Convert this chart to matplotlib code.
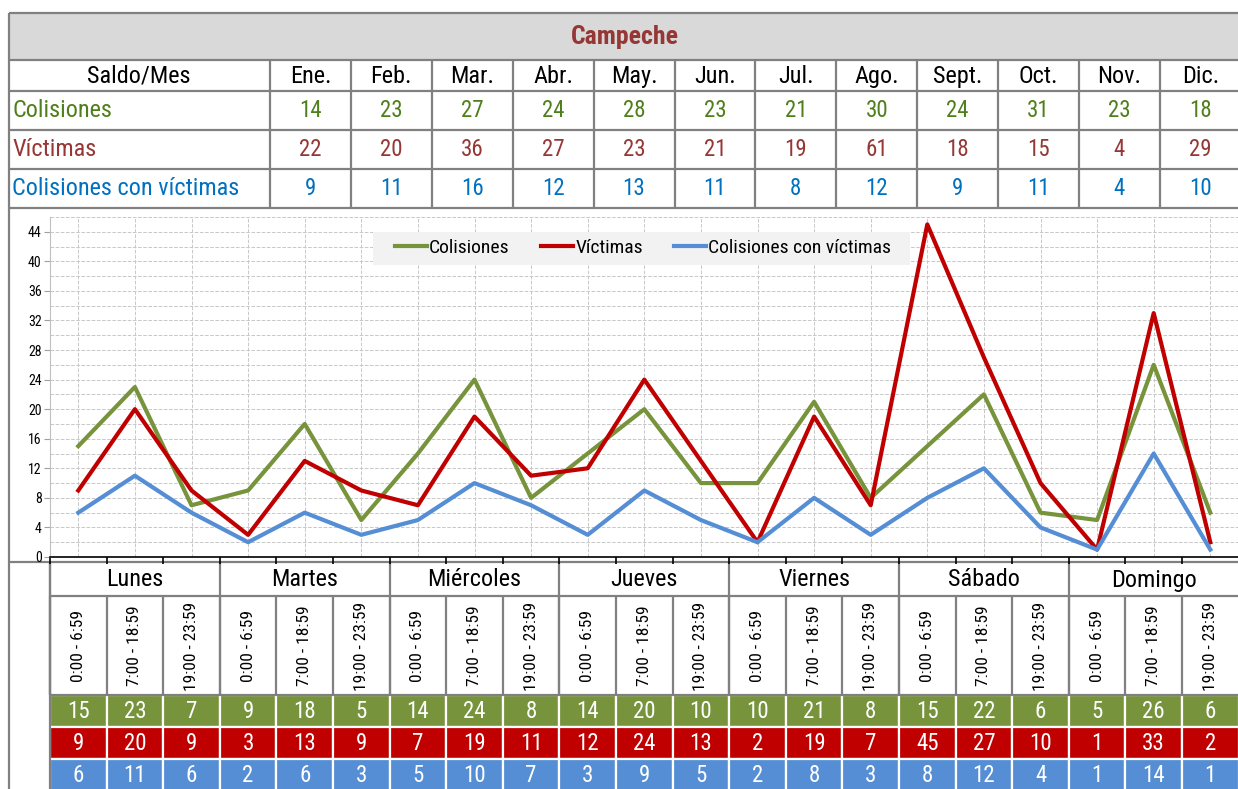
"""
    Campeche: colisiones y víctimas por día y horario
"""
import numpy as np
import matplotlib.pyplot as plt
from matplotlib.patches import Rectangle

plt.rcParams['font.family'] = ['Roboto Condensed', 'DejaVu Sans']

# monthly summary
months = ['Ene.', 'Feb.', 'Mar.', 'Abr.', 'May.', 'Jun.', 'Jul.', 'Ago.', 'Sept.', 'Oct.', 'Nov.', 'Dic.']
col_mes = [14, 23, 27, 24, 28, 23, 21, 30, 24, 31, 23, 18]
vic_mes = [22, 20, 36, 27, 23, 21, 19, 61, 18, 15, 4, 29]
cv_mes = [9, 11, 16, 12, 13, 11, 8, 12, 9, 11, 4, 10]

# by day / time slot
days = ['Lunes', 'Martes', 'Miércoles', 'Jueves', 'Viernes', 'Sábado', 'Domingo']
slots = ['0:00 - 6:59', '7:00 - 18:59', '19:00 - 23:59']
colisiones = [15, 23, 7, 9, 18, 5, 14, 24, 8, 14, 20, 10, 10, 21, 8, 15, 22, 6, 5, 26, 6]
victimas = [9, 20, 9, 3, 13, 9, 7, 19, 11, 12, 24, 13, 2, 19, 7, 45, 27, 10, 1, 33, 2]
con_victimas = [6, 11, 6, 2, 6, 3, 5, 10, 7, 3, 9, 5, 2, 8, 3, 8, 12, 4, 1, 14, 1]

GREEN, RED, BLUE = '#77933C', '#C00000', '#558ED5'
TXT_G, TXT_R, TXT_B = '#4F7F1A', '#953735', '#0070C0'
GRAY = '#808080'

W, H = 1238, 789
fig = plt.figure(figsize=(W / 100, H / 100), dpi=100)

# background axes in pixel coords (for the tables)
bg = fig.add_axes([0, 0, 1, 1])
bg.set_xlim(0, W)
bg.set_ylim(H, 0)
bg.axis('off')


def hline(y, x0, x1, c=GRAY, lw=1.6):
    bg.plot([x0, x1], [y, y], color=c, lw=lw, solid_capstyle='butt')


def vline(x, y0, y1, c=GRAY, lw=1.6):
    bg.plot([x, x], [y0, y1], color=c, lw=lw, solid_capstyle='butt')


# ---- top table ----
L, R = 9, 1241
bg.add_patch(Rectangle((L, 13), R - L, 47, facecolor='#D9D9D9', edgecolor='none'))
bg.text((L + R) / 2, 37, 'Campeche', ha='center', va='center', fontsize=18.5,
        fontweight='bold', color=TXT_R)

col_x = 270 + 80.9 * np.arange(13)
rows_y = [60, 91, 130, 169, 208]
for y in [13] + rows_y:
    hline(y, L, R)
vline(L, 13, H)
for x in col_x:
    vline(x, 60, 208)

bg.text(139, 76, 'Saldo/Mes', ha='center', va='center', fontsize=17.5)
labels = ['Colisiones', 'Víctimas', 'Colisiones con víctimas']
series = [col_mes, vic_mes, cv_mes]
tcols = [TXT_G, TXT_R, TXT_B]
for i, m in enumerate(months):
    cx = (col_x[i] + col_x[i + 1]) / 2
    bg.text(cx, 76, m, ha='center', va='center', fontsize=17.5)
    for r in range(3):
        cy = (rows_y[r + 1] + rows_y[r + 2]) / 2
        bg.text(cx, cy, str(series[r][i]), ha='center', va='center', fontsize=16.5, color=tcols[r])
for r in range(3):
    cy = (rows_y[r + 1] + rows_y[r + 2]) / 2
    bg.text(12, cy, labels[r], ha='left', va='center', fontsize=17.5, color=tcols[r])

# ---- line chart ----
x0, x1 = 50, 50 + 21 * 56.6
ytop, ybot = 217, 557
ax = fig.add_axes([x0 / W, 1 - ybot / H, (x1 - x0) / W, (ybot - ytop) / H])
ax.set_facecolor('none')
pos = np.arange(len(colisiones))
ax.plot(pos, colisiones, color=GREEN, lw=3, label='Colisiones')
ax.plot(pos, victimas, color=RED, lw=3, label='Víctimas')
ax.plot(pos, con_victimas, color=BLUE, lw=3, label='Colisiones con víctimas')
ax.set_xlim(-0.5, 20.5)
ax.set_ylim(0, 46)
ax.set_yticks(np.arange(0, 45, 4))
ax.set_yticks(np.arange(0, 47, 2), minor=True)
ax.set_xticks(np.arange(-0.5, 21, 1))
ax.set_xticks(pos, minor=True)
ax.set_xticklabels([])
ax.tick_params(axis='y', which='major', labelsize=10, length=4, color='#a0a0a0', pad=2)
ax.tick_params(axis='y', which='minor', length=0)
ax.tick_params(axis='x', which='major', length=5, color='black', width=1.2)
ax.tick_params(axis='x', which='minor', length=0)
ax.grid(True, which='minor', axis='both', ls='--', lw=0.7, color='#c8c8c8')
ax.grid(True, which='major', axis='y', ls='--', lw=0.7, color='#c8c8c8')
ax.set_axisbelow(True)
for s in ['top', 'right']:
    ax.spines[s].set_visible(False)
ax.spines['left'].set_color('#c0c0c0')
ax.spines['bottom'].set_color('black')
ax.spines['bottom'].set_linewidth(1.2)

# legend with a flat grey box behind it
ax.add_patch(Rectangle((373, 232), 537, 33, facecolor='#F2F2F2', edgecolor='none',
                       transform=bg.transData, clip_on=False, zorder=4))
leg = ax.legend(loc='center', bbox_to_anchor=(643 / W, 1 - 248 / H),
                bbox_transform=fig.transFigure, ncol=3, fontsize=14,
                handlelength=1.65, handletextpad=0.12, columnspacing=1.6,
                frameon=False, borderpad=0.2)
leg.set_zorder(5)

# ---- bottom table ----
bx = 50 + 56.6 * np.arange(22)
hline(562, L, R)
hline(596, 50, R)
hline(695, 50, R)
vline(50, 562, H)
for d in range(7):
    vline(bx[d * 3], 562, 695)
    bg.text((bx[d * 3] + bx[d * 3 + 3]) / 2, 580, days[d], ha='center', va='center', fontsize=17.5)
for k in range(21):
    vline(bx[k], 596, 695)
    bg.text((bx[k] + bx[k + 1]) / 2, 646, slots[k % 3], ha='center', va='center',
            rotation=90, fontsize=12.5)

brow = [695, 727, 759, 791]
for r, (vals, c) in enumerate(zip([colisiones, victimas, con_victimas], [GREEN, RED, BLUE])):
    for k, v in enumerate(vals):
        bg.add_patch(Rectangle((bx[k], brow[r]), bx[k + 1] - bx[k], brow[r + 1] - brow[r],
                               facecolor=c, edgecolor='white', lw=1.6))
        bg.text((bx[k] + bx[k + 1]) / 2, (brow[r] + brow[r + 1]) / 2 + 1, str(v),
                ha='center', va='center', fontsize=16.5, color='white')

fig.savefig('out.png', dpi=100)
